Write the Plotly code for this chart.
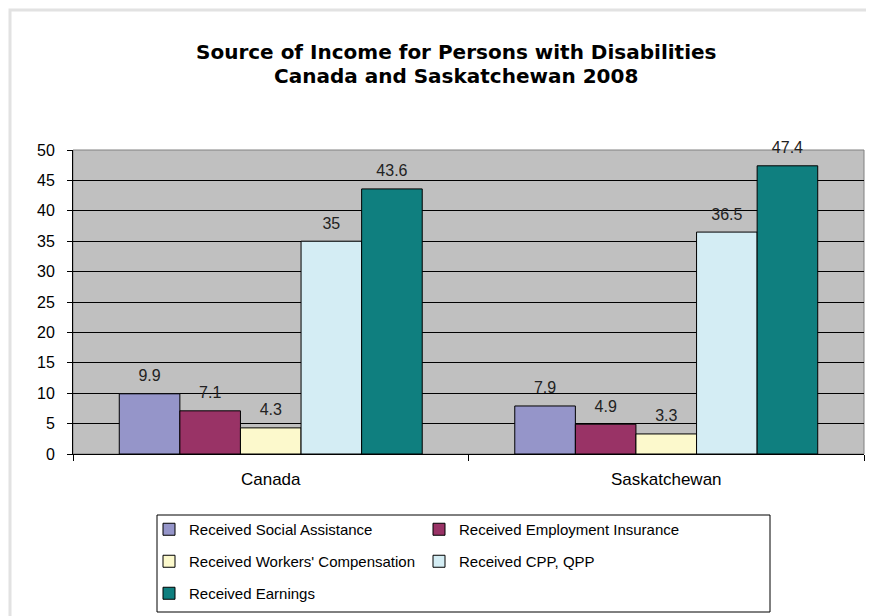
import plotly.graph_objects as go

categories = ["Canada", "Saskatchewan"]
series_names = [
    "Received Social Assistance",
    "Received Employment Insurance",
    "Received Workers' Compensation",
    "Received CPP, QPP",
    "Received Earnings",
]
social_assistance = [9.9, 7.9]
employment_insurance = [7.1, 4.9]
workers_comp = [4.3, 3.3]
cpp_qpp = [35, 36.5]
earnings = [43.6, 47.4]
series_values = [social_assistance, employment_insurance, workers_comp, cpp_qpp, earnings]
colors = ["#9595C9", "#993366", "#FCF9CC", "#D4EDF4", "#0F7F7F"]
title_lines = ["Source of Income for Persons with Disabilities", "Canada and Saskatchewan 2008"]
legend_rows = [["legend", 0, 1], ["legend2", 2, 3], ["legend3", 4]]

# the page has an 8px body margin; work in page pixels and convert
OFF = 8
W, H = 874 - OFF, 616 - OFF
PL, PR, PT, PB = 73, 864, 150, 454          # plot area in page pixels
L, R, T, B = PL - OFF, (W + OFF) - PR, PT - OFF, (H + OFF) - PB
pw, ph = PR - PL, PB - PT

def px_x(x):
    return (x - PL) / pw

def px_y(y):
    return (PB - y) / ph

def cx(x):
    return (x - OFF) / W

def cy(y):
    return 1 - (y - OFF) / H

FONT = "Liberation Sans, Arial"
GAP = 0.234

legend_of = {}
for row in legend_rows:
    for idx in row[1:]:
        legend_of[idx] = row[0]

fig = go.Figure()
for i, (name, vals, c) in enumerate(zip(series_names, series_values, colors)):
    fig.add_trace(go.Bar(
        x=categories, y=vals, name=name,
        marker=dict(color=c, line=dict(color="black", width=1)),
        offsetgroup=name, legend=legend_of[i],
    ))
for name, vals in zip(series_names, series_values):
    fig.add_trace(go.Scatter(
        x=categories, y=vals, mode="markers+text",
        marker=dict(size=12, color="rgba(0,0,0,0)"),
        text=[("%g" % v) for v in vals], textposition="top center",
        textfont=dict(size=16, color="#222222", family=FONT),
        offsetgroup=name, showlegend=False, hoverinfo="skip",
        cliponaxis=False,
    ))

legend_style = dict(
    orientation="h",
    xref="container", yref="container",
    x=cx(149), xanchor="left", yanchor="top",
    borderwidth=0, bgcolor="rgba(0,0,0,0)",
    entrywidth=225, entrywidthmode="pixels",
    font=dict(size=15, family=FONT),
    traceorder="normal", itemclick=False,
)
row_tops = [513, 545, 577]

fig.update_layout(
    width=W, height=H,
    margin=dict(l=L, r=R, t=T, b=B),
    paper_bgcolor="white",
    plot_bgcolor="#C0C0C0",
    barmode="group",
    bargap=GAP,
    bargroupgap=0,
    scattermode="group",
    scattergap=GAP,
    font=dict(family=FONT, size=16, color="black"),
    xaxis=dict(
        type="category",
        tickson="boundaries",
        ticks="outside", ticklen=6, tickcolor="black",
        showline=True, linecolor="black", linewidth=1,
        showgrid=False,
        ticklabelstandoff=10,
        tickfont=dict(size=17),
    ),
    yaxis=dict(
        range=[0, 50], dtick=5,
        ticks="outside", ticklen=5, tickcolor="black",
        showline=True, linecolor="black", linewidth=1,
        showgrid=True, gridcolor="black", gridwidth=1,
        zeroline=False,
        ticklabelstandoff=9,
        tickfont=dict(size=16),
    ),
    legend=dict(legend_style, y=cy(row_tops[0])),
    legend2=dict(legend_style, y=cy(row_tops[1])),
    legend3=dict(legend_style, y=cy(row_tops[2])),
    showlegend=True,
    annotations=[
        dict(text="<b>%s</b>" % title_lines[0], xref="paper", yref="paper",
             x=px_x(456), y=px_y(52), xanchor="center", yanchor="middle",
             showarrow=False, font=dict(size=20, family="DejaVu Sans", color="black")),
        dict(text="<b>%s</b>" % title_lines[1], xref="paper", yref="paper",
             x=px_x(456), y=px_y(76), xanchor="center", yanchor="middle",
             showarrow=False, font=dict(size=20, family="DejaVu Sans", color="black")),
    ],
    shapes=[
        dict(type="rect", xref="paper", yref="paper",
             x0=px_x(10), x1=px_x(884), y0=px_y(630), y1=px_y(10),
             line=dict(color="#E2E2E2", width=3), layer="below"),
        dict(type="rect", xref="paper", yref="paper",
             x0=0, x1=1, y0=0, y1=1,
             line=dict(color="#808080", width=1), layer="below"),
        dict(type="rect", xref="paper", yref="paper",
             x0=px_x(157), x1=px_x(770), y0=px_y(612), y1=px_y(515),
             line=dict(color="black", width=1), layer="above"),
    ],
)

fig.write_html("out.html")
